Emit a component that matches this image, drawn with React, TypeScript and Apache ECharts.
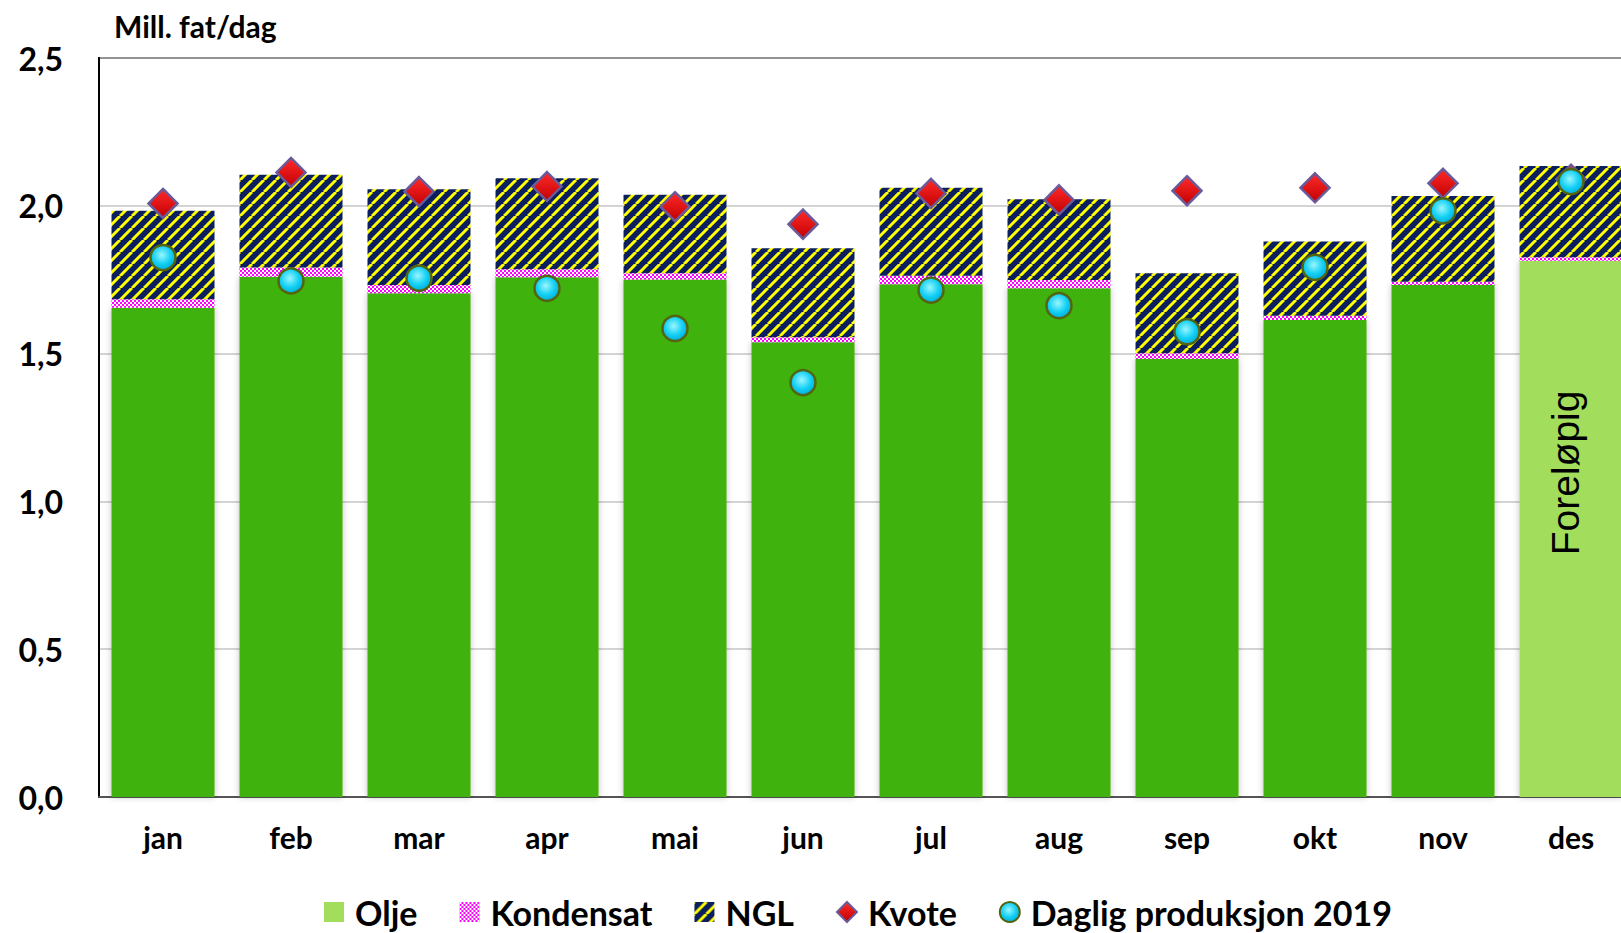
import React, { useEffect, useRef } from "react";
import * as echarts from "echarts";

const months = ["jan", "feb", "mar", "apr", "mai", "jun", "jul", "aug", "sep", "okt", "nov", "des"];
const olje = [1.655, 1.760, 1.704, 1.758, 1.751, 1.538, 1.735, 1.721, 1.482, 1.614, 1.732, 1.814];
const kondensat = [0.029, 0.031, 0.028, 0.027, 0.021, 0.017, 0.028, 0.028, 0.019, 0.014, 0.011, 0.012];
const ngl = [0.299, 0.314, 0.324, 0.308, 0.265, 0.301, 0.298, 0.273, 0.271, 0.251, 0.290, 0.309];
const kvote = [2.008, 2.113, 2.048, 2.065, 1.997, 1.938, 2.042, 2.020, 2.051, 2.061, 2.076, 2.09];
const daglig = [1.825, 1.746, 1.755, 1.721, 1.585, 1.402, 1.715, 1.662, 1.574, 1.792, 1.983, 2.082];
const yTicks = { min: 0, max: 2.5, interval: 0.5 };
const preliminaryLabel = "Foreløpig";

function stripePattern(): HTMLCanvasElement {
  const c = document.createElement("canvas");
  const p = 12;
  c.width = p;
  c.height = p;
  const ctx = c.getContext("2d")!;
  ctx.fillStyle = "#0b1f5e";
  ctx.fillRect(0, 0, p, p);
  ctx.strokeStyle = "#ffff00";
  ctx.lineWidth = 3;
  for (const k of [-p, 0, p]) {
    ctx.beginPath();
    ctx.moveTo(k, p);
    ctx.lineTo(k + p, 0);
    ctx.stroke();
  }
  return c;
}

function checkerPattern(): HTMLCanvasElement {
  const c = document.createElement("canvas");
  c.width = 4;
  c.height = 4;
  const ctx = c.getContext("2d")!;
  ctx.fillStyle = "#ff00ff";
  ctx.fillRect(0, 0, 4, 4);
  ctx.fillStyle = "#ffffff";
  ctx.fillRect(0, 0, 2, 2);
  ctx.fillRect(2, 2, 2, 2);
  return c;
}

export default function App() {
  const ref = useRef<HTMLDivElement>(null);
  useEffect(() => {
    if (!ref.current) return;
    const chart = echarts.init(ref.current, null, { renderer: "svg" });
    const stripes = { image: stripePattern(), repeat: "repeat" };
    const checker = { image: checkerPattern(), repeat: "repeat" };
    const darkGreen = "#40b20a";
    const lightGreen = "#a2dd5c";
    const font = "Lato";
    const oljeData = olje.map((v, i) =>
      i === olje.length - 1
        ? {
            value: v,
            itemStyle: { color: lightGreen },
            label: {
              show: true,
              position: "inside",
              rotate: 90,
              formatter: preliminaryLabel,
              fontSize: 39,
              fontWeight: "normal",
              color: "#000",
              fontFamily: "Liberation Sans",
              offset: [56, -6],
            },
          }
        : v
    );
    chart.setOption({
      animation: false,
      textStyle: { fontFamily: font },
      title: {
        text: "Mill. fat/dag",
        left: 109,
        top: 6,
        textStyle: { fontSize: 30, fontWeight: "bold", color: "#000", fontFamily: font },
      },
      legend: {
        left: 319,
        top: 890,
        itemWidth: 20,
        itemHeight: 20,
        itemGap: 42,
        textStyle: { fontSize: 34, fontWeight: "bold", color: "#000", fontFamily: font, padding: [0, 0, 0, 6] },
        data: [
          { name: "Olje", icon: "rect", itemStyle: { color: lightGreen, shadowBlur: 0 } },
          { name: "Kondensat", icon: "rect" },
          { name: "NGL", icon: "rect" },
          { name: "Kvote", icon: "diamond" },
          { name: "Daglig produksjon 2019", icon: "circle" },
        ],
      },
      grid: {
        left: 99,
        top: 58,
        bottom: 136,
        right: 15,
        show: true,
        borderColor: "#000",
        borderWidth: 2,
        backgroundColor: "transparent",
      },
      xAxis: {
        type: "category",
        data: months,
        axisLine: { show: true, lineStyle: { color: "#555", width: 2 } },
        axisTick: { show: false },
        axisLabel: { fontSize: 30, fontWeight: "bold", color: "#000", margin: 25, fontFamily: font },
      },
      yAxis: {
        type: "value",
        min: yTicks.min,
        max: yTicks.max,
        interval: yTicks.interval,
        axisLine: { show: true, lineStyle: { color: "#000", width: 2 } },
        axisTick: { show: false },
        splitLine: { lineStyle: { color: "#c4c4c4", width: 1.5 } },
        axisLabel: {
          fontSize: 32,
          fontWeight: "bold",
          color: "#000",
          margin: 36,
          fontFamily: font,
          formatter: (v: number) => v.toFixed(1).replace(".", ","),
        },
      },
      series: [
        {
          name: "Olje",
          type: "bar",
          stack: "total",
          barWidth: 103,
          data: oljeData,
          itemStyle: { color: darkGreen, shadowBlur: 6, shadowColor: "rgba(0,0,0,0.25)" },
        },
        {
          name: "Kondensat",
          type: "bar",
          stack: "total",
          barWidth: 103,
          data: kondensat,
          itemStyle: { color: checker },
        },
        {
          name: "NGL",
          type: "bar",
          stack: "total",
          barWidth: 103,
          data: ngl,
          itemStyle: { color: stripes },
        },
        {
          name: "Kvote",
          type: "scatter",
          symbol: "diamond",
          symbolSize: 29,
          z: 5,
          data: kvote,
          itemStyle: {
            opacity: 1,
            color: {
              type: "linear",
              x: 0,
              y: 0,
              x2: 0,
              y2: 1,
              colorStops: [
                { offset: 0, color: "#ff2a2a" },
                { offset: 1, color: "#c20000" },
              ],
            },
            borderColor: "#6b5a9a",
            borderWidth: 2.5,
          },
        },
        {
          name: "Daglig produksjon 2019",
          type: "scatter",
          symbol: "circle",
          symbolSize: 25,
          z: 6,
          data: daglig,
          itemStyle: {
            opacity: 1,
            color: {
              type: "radial",
              x: 0.45,
              y: 0.4,
              r: 0.6,
              colorStops: [
                { offset: 0, color: "#9af6ff" },
                { offset: 0.6, color: "#14d0f4" },
                { offset: 1, color: "#00aedc" },
              ],
            },
            borderColor: "#55650f",
            borderWidth: 2.5,
          },
        },
      ],
    });
    return () => chart.dispose();
  }, []);
  return (
    <div style={{ position: "absolute", left: 0, top: 0, width: 1621, height: 933, overflow: "hidden" }}>
      <div ref={ref} style={{ width: 1650, height: 933 }} />
    </div>
  );
}
